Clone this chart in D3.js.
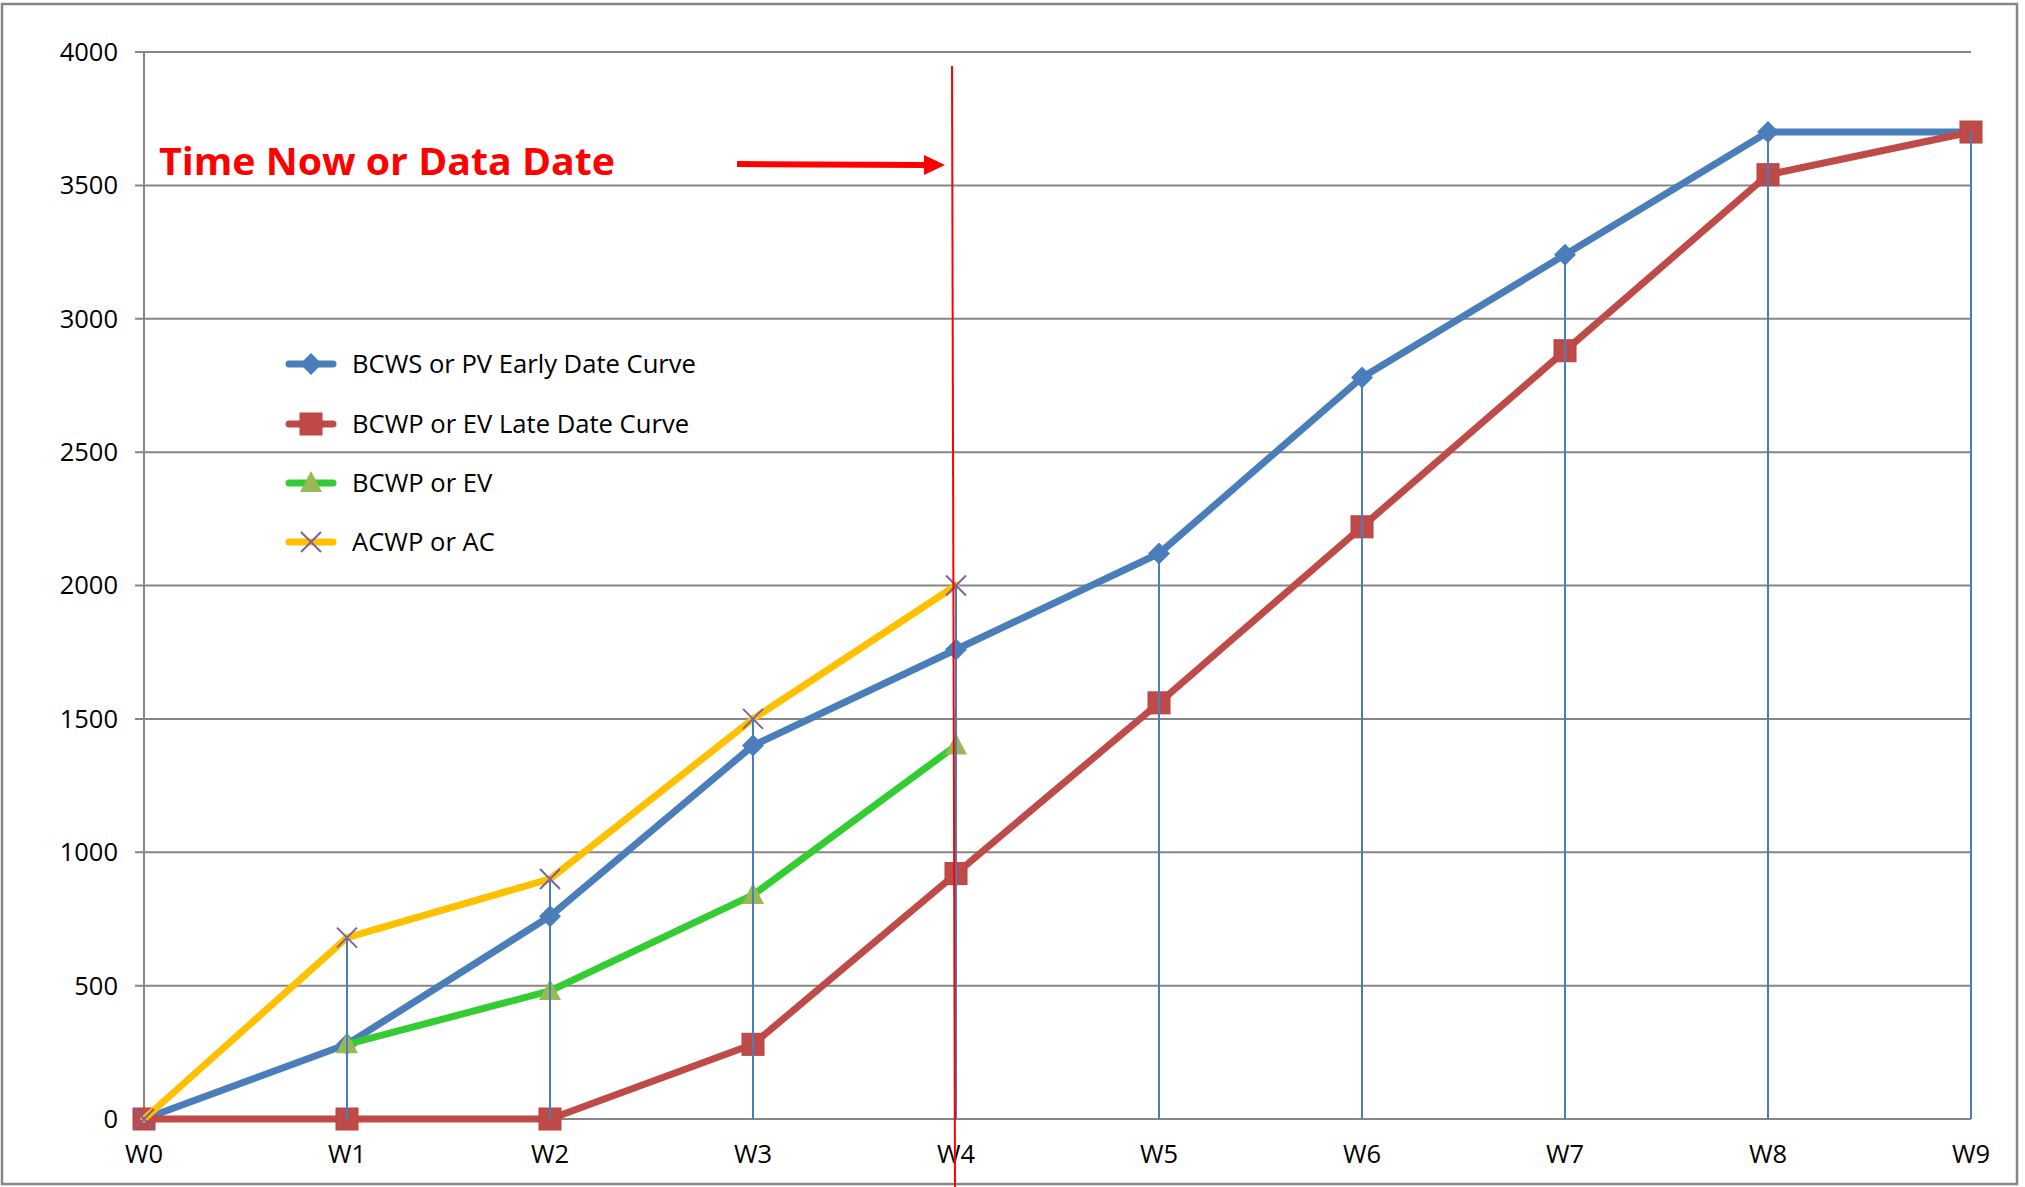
<!DOCTYPE html>
<html><head><meta charset="utf-8">
<script src="https://cdn.jsdelivr.net/npm/d3@7"></script>
<style>
html,body{margin:0;padding:0;background:#fff;}
svg{display:block;}
text{font-family:"Open Sans","Noto Sans",Lato,sans-serif;}
</style></head>
<body>
<svg id="chart" width="2025" height="1187"></svg>
<script>
const categories = ["W0","W1","W2","W3","W4","W5","W6","W7","W8","W9"];
const bcwsEarly = [0,280,760,1400,1760,2120,2780,3240,3700,3700];
const bcwpLate  = [0,0,0,280,920,1560,2220,2880,3540,3700];
const bcwpEV    = [null,280,480,840,1400,null,null,null,null,null];
const acwpAC    = [0,680,900,1500,2000,null,null,null,null,null];
const yTicks = [0,500,1000,1500,2000,2500,3000,3500,4000];
const seriesNames = ["BCWS or PV Early Date Curve","BCWP or EV Late Date Curve","BCWP or EV","ACWP or AC"];
const dataDateLabel = "Time Now or Data Date";
const dataDateCategory = "W4";

const svg = d3.select("#chart");
const x = d3.scalePoint().domain(categories).range([144, 1971]);
const y = d3.scaleLinear().domain([0, 4000]).range([1119, 52]);

// outer border
svg.append("rect").attr("x",2).attr("y",4).attr("width",2015).attr("height",1180)
  .attr("fill","none").attr("stroke","#868686").attr("stroke-width",2.5);

// gridlines
svg.append("g").selectAll("line").data(yTicks).join("line")
  .attr("x1",135).attr("x2",x("W9"))
  .attr("y1",d=>y(d)).attr("y2",d=>y(d))
  .attr("stroke","#868686").attr("stroke-width",2);
// y axis line
svg.append("line").attr("x1",x("W0")).attr("x2",x("W0")).attr("y1",y(4000)).attr("y2",y(0))
  .attr("stroke","#868686").attr("stroke-width",2);

// y labels
svg.append("g").selectAll("text").data(yTicks).join("text")
  .attr("x",118).attr("y",d=>y(d)).attr("dy","0.35em")
  .attr("text-anchor","end").attr("font-size",25.5).attr("fill","#000")
  .text(d=>d);
// x labels
svg.append("g").selectAll("text").data(categories).join("text")
  .attr("x",d=>x(d)).attr("y",1154).attr("dy","0.35em")
  .attr("text-anchor","middle").attr("font-size",25.5).attr("fill","#000")
  .text(d=>d);

const series = [
  {name:seriesNames[0], values:bcwsEarly, color:"#4A7EBB", marker:"diamond", mfill:"#4A7EBB"},
  {name:seriesNames[1], values:bcwpLate,  color:"#BE4B48", marker:"square", mfill:"#BE4B48"},
  {name:seriesNames[2], values:bcwpEV,    color:"#33CC33", marker:"triangle", mfill:"#98B954"},
  {name:seriesNames[3], values:acwpAC,    color:"#FFC000", marker:"x", mfill:"#7D60A0"}
];

const line = d3.line().defined(d=>d.v!==null).x(d=>x(d.c)).y(d=>y(d.v));

function drawMarker(g, type, cx, cy, color){
  if(type==="diamond"){
    g.append("path").attr("d",`M${cx},${cy-11}L${cx+11},${cy}L${cx},${cy+11}L${cx-11},${cy}Z`)
      .attr("fill",color);
  } else if(type==="square"){
    g.append("rect").attr("x",cx-11).attr("y",cy-11).attr("width",22).attr("height",22)
      .attr("fill",color).attr("stroke","#B9423F").attr("stroke-width",1);
  } else if(type==="triangle"){
    g.append("path").attr("d",`M${cx},${cy-12}L${cx+11},${cy+9}L${cx-11},${cy+9}Z`)
      .attr("fill",color);
  } else if(type==="x"){
    g.append("path").attr("d",`M${cx-10},${cy-10}L${cx+10},${cy+10}M${cx-10},${cy+10}L${cx+10},${cy-10}`)
      .attr("stroke",color).attr("stroke-width",2).attr("fill","none");
  }
}

const gSeries = svg.append("g");
series.forEach(s=>{
  const pts = categories.map((c,i)=>({c, v:s.values[i]}));
  gSeries.append("path").datum(pts).attr("d",line)
    .attr("fill","none").attr("stroke",s.color).attr("stroke-width",7)
    .attr("stroke-linejoin","round").attr("stroke-linecap","round");
  const gm = gSeries.append("g");
  pts.filter(p=>p.v!==null).forEach(p=>drawMarker(gm, s.marker, x(p.c), y(p.v), s.mfill));
});

// drop lines (from max value at each category down to axis)
const maxima = categories.map((c,i)=>({c, v:d3.max(series, s=>s.values[i])}));
svg.append("g").selectAll("line").data(maxima.filter(d=>d.v>0)).join("line")
  .attr("x1",d=>x(d.c)).attr("x2",d=>x(d.c))
  .attr("y1",d=>y(d.v)).attr("y2",y(0))
  .attr("stroke","#4A7EBB").attr("stroke-width",2);

// data date line
const xd = x(dataDateCategory);
svg.append("line").attr("x1",xd-4).attr("y1",66).attr("x2",xd-1).attr("y2",1187)
  .attr("stroke","#FF0000").attr("stroke-width",2);

// label and arrow
svg.append("text").attr("x",159).attr("y",175)
  .attr("font-size",38).attr("font-weight","bold").attr("fill","#FF0000")
  .attr("textLength",456).attr("lengthAdjust","spacingAndGlyphs")
  .text(dataDateLabel);
svg.append("path")
  .attr("d",`M737,161 L924,162 L924,155 L945,165 L924,175 L924,168 L737,167 Z`)
  .attr("fill","#FF0000");

// legend
const leg = svg.append("g");
const legY = [364, 424, 483, 542];
series.forEach((s,i)=>{
  const ly = legY[i];
  leg.append("line").attr("x1",289).attr("x2",333).attr("y1",ly).attr("y2",ly)
    .attr("stroke",s.color).attr("stroke-width",7).attr("stroke-linecap","round");
  drawMarker(leg, s.marker, 311, ly, s.mfill);
  leg.append("text").attr("x",352).attr("y",ly).attr("dy","0.35em")
    .attr("font-size",25.6).attr("fill","#000").text(s.name);
});
</script>
</body></html>
